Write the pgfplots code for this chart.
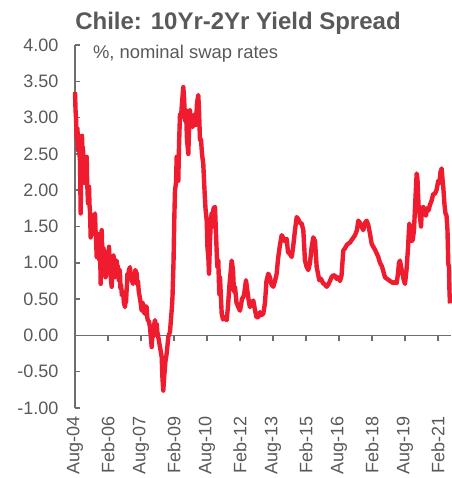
\documentclass[border=0pt]{standalone}
\usepackage{pgfplots}
\pgfplotsset{compat=1.18}
\usepackage{fontspec}
\setmainfont{Liberation Sans}
\definecolor{spreadred}{HTML}{EE1C2E}
\definecolor{txtgray}{HTML}{595959}
\definecolor{axgray}{HTML}{6E6E6E}
\begin{document}
\begin{tikzpicture}
\begin{axis}[
  at={(0,0)}, anchor=south west,
  scale only axis, width=282pt, height=272.25pt,
  xmin=0, xmax=205.1, ymin=-1, ymax=4,
  axis x line=middle, axis y line=left,
  hide obscured x ticks=false, hide obscured y ticks=false,
  axis line style={draw=axgray, line width=1.3pt, -},
  xtick={0,18,...,198},
  xticklabels={Aug-04,Feb-06,Aug-07,Feb-09,Aug-10,Feb-12,Aug-13,Feb-15,Aug-16,Feb-18,Aug-19,Feb-21},
  ytick={-1,-0.5,...,4},
  xtick align=outside, ytick align=inside,
  major tick length=4pt,
  every tick/.style={draw=axgray, line width=1.1pt},
  minor tick num=0,
  tick label style={font=\fontsize{13.5}{14}\selectfont, text=txtgray},
  /pgf/number format/assume math mode=true,
  yticklabel style={/pgf/number format/fixed, /pgf/number format/fixed zerofill, /pgf/number format/precision=2, anchor=east, xshift=-9pt},
  xticklabel style={yshift=-53pt, rotate=90, anchor=east},
  clip=false,
]
\addplot[spreadred, line width=3.3pt, line join=round] coordinates {
(0,3.35)(0.3,3.1)(0.55,3.0)(0.8,2.8)(1.09,2.69)(1.35,2.85)(1.64,2.55)(1.9,2.7)(2.18,2.75)(2.45,2.5)(2.73,2.40)(3.11,1.68)(3.3,2.2)(3.55,2.50)(3.82,2.75)(4.1,2.45)(4.36,2.59)(4.65,2.2)(4.91,2.30)(5.2,2.1)(5.45,2.41)(5.9,2.2)(6.38,2.46)(6.6,2.15)(6.82,2.0)(7.09,1.82)(7.35,2.0)(7.64,2.05)(7.9,1.8)(8.18,1.72)(8.56,1.35)(8.9,1.6)(9.27,1.65)(9.55,1.45)(9.82,1.40)(10.3,1.6)(10.91,1.68)(11.2,1.45)(11.45,1.35)(11.84,1.08)(12.2,1.4)(12.55,1.30)(12.8,1.15)(13.09,1.05)(13.35,1.3)(13.64,1.25)(14.02,0.71)(14.3,1.2)(14.56,1.45)(14.9,1.15)(15.27,0.95)(15.55,1.2)(15.82,1.10)(16.1,0.9)(16.36,1.03)(16.65,0.8)(16.91,0.85)(17.2,1.0)(17.45,1.15)(18.0,0.95)(18.55,1.22)(18.8,1.0)(19.09,0.95)(19.5,0.8)(20.02,0.67)(20.4,0.9)(20.73,0.85)(21.0,1.1)(21.27,1.05)(21.55,0.85)(21.82,0.80)(22.3,0.95)(22.75,1.03)(23.1,0.85)(23.45,0.95)(23.7,0.8)(24.0,0.75)(24.3,0.9)(24.55,0.85)(24.8,0.65)(25.09,0.70)(25.6,0.55)(26.18,0.60)(26.7,0.45)(27.27,0.39)(27.5,0.5)(27.82,0.45)(28.1,0.6)(28.36,0.70)(28.6,0.85)(28.91,0.80)(29.4,0.9)(30.0,0.94)(30.3,0.8)(30.55,0.85)(31.1,0.75)(31.64,0.71)(31.9,0.85)(32.18,0.80)(32.9,0.9)(33.65,0.85)(34.0,0.7)(34.36,0.75)(34.8,0.6)(35.18,0.55)(35.8,0.45)(36.38,0.34)(36.7,0.45)(37.09,0.44)(37.5,0.35)(37.91,0.30)(38.5,0.4)(39.11,0.39)(39.4,0.25)(39.82,0.20)(40.3,0.2)(40.91,0.11)(41.3,0.0)(41.84,-0.16)(42.3,0.05)(42.71,-0.02)(43.2,0.15)(43.64,0.21)(44.1,0.1)(44.56,0.16)(44.9,0.05)(45.27,0.0)(46.36,-0.16)(47.29,-0.30)(47.73,-0.6)(48.16,-0.76)(48.71,-0.55)(49.36,-0.35)(50.02,-0.25)(50.89,-0.02)(51.82,0.05)(52.75,0.35)(53.18,0.53)(53.73,1.0)(54.16,1.6)(54.55,2.0)(55.09,2.1)(55.47,2.46)(55.91,2.2)(56.35,2.13)(56.73,2.6)(57.27,3.05)(57.82,3.0)(58.36,3.2)(59.07,3.42)(59.45,3.3)(60.0,2.96)(60.55,3.1)(61.09,2.7)(61.80,2.50)(62.18,2.8)(62.73,3.10)(63.27,2.95)(64.2,2.87)(64.91,3.0)(65.45,3.05)(66.0,2.9)(66.55,3.2)(67.25,3.31)(67.64,3.1)(68.18,2.69)(68.73,2.7)(69.27,2.5)(69.98,2.36)(70.64,2.0)(71.18,1.75)(71.84,1.58)(72.27,1.2)(72.71,1.1)(73.09,0.85)(73.64,1.3)(74.18,1.6)(74.56,1.68)(75.0,1.5)(75.55,1.75)(76.36,1.77)(76.91,1.4)(77.62,0.94)(78.16,1.03)(78.71,0.57)(79.09,0.80)(79.64,0.5)(80.02,0.30)(80.73,0.22)(81.55,0.25)(82.75,0.21)(83.45,0.4)(84.27,0.7)(85.47,1.03)(86.18,0.9)(86.73,0.6)(87.27,0.67)(88.09,0.45)(88.91,0.40)(90.0,0.34)(91.09,0.5)(92.18,0.55)(93.27,0.76)(94.09,0.6)(94.91,0.45)(95.45,0.39)(96.38,0.45)(97.25,0.48)(98.18,0.35)(99.0,0.25)(99.98,0.25)(100.91,0.32)(101.73,0.28)(102.71,0.30)(103.64,0.45)(104.45,0.75)(105.44,0.85)(106.36,0.8)(107.18,0.70)(108.16,0.67)(109.09,0.75)(110.02,0.85)(110.73,1.05)(111.82,1.25)(112.75,1.38)(113.45,1.35)(114.27,1.30)(115.47,1.33)(116.18,1.15)(117.27,1.12)(118.2,1.08)(118.91,1.2)(120.0,1.45)(120.93,1.63)(121.8,1.60)(122.73,1.55)(123.65,1.54)(124.53,1.45)(125.45,1.03)(126.27,0.95)(127.25,0.90)(128.18,1.0)(129.0,1.2)(129.98,1.35)(130.91,1.30)(131.84,0.94)(132.55,0.85)(133.25,0.76)(134.18,0.78)(135.27,0.72)(136.36,0.70)(137.29,0.67)(138.16,0.70)(139.09,0.75)(139.91,0.80)(140.89,0.83)(141.82,0.82)(142.64,0.78)(143.45,0.80)(144.55,0.75)(145.36,0.82)(146.35,1.17)(147.27,1.20)(148.36,1.25)(150.0,1.28)(151.09,1.32)(152.73,1.38)(153.82,1.45)(154.53,1.58)(155.45,1.55)(156.27,1.50)(157.25,1.45)(158.18,1.55)(159.11,1.58)(159.98,1.52)(160.91,1.40)(161.84,1.26)(162.71,1.22)(163.64,1.18)(164.73,1.12)(165.44,1.08)(166.36,1.0)(167.45,0.95)(168.55,0.85)(169.09,0.80)(170.18,0.78)(171.27,0.76)(172.36,0.74)(173.62,0.72)(174.55,0.74)(175.47,0.72)(176.18,0.85)(176.73,1.0)(177.27,1.03)(177.82,0.95)(178.64,0.85)(179.45,0.75)(180.0,0.71)(180.82,0.9)(181.64,1.2)(182.35,1.54)(182.73,1.50)(183.27,1.30)(184.2,1.31)(184.91,1.45)(185.73,1.9)(186.38,2.23)(186.82,2.15)(187.36,1.8)(188.18,1.63)(188.73,1.50)(189.27,1.75)(189.98,1.77)(190.64,1.68)(191.45,1.65)(192.0,1.75)(192.82,1.72)(193.64,1.8)(194.45,1.85)(195.44,1.95)(196.36,1.95)(197.18,2.0)(198.16,2.13)(198.82,2.1)(199.36,2.25)(200.02,2.30)(200.45,2.15)(200.89,2.04)(201.55,1.80)(202.09,1.68)(202.64,1.65)(203.18,1.45)(203.62,0.99)(204.0,0.94)(204.27,0.6)(204.55,0.44)
};
\end{axis}
\node[anchor=base west, inner sep=0pt, text=txtgray, font=\fontsize{18}{20}\selectfont\bfseries] at (0pt,283.5pt) {Chile: 10Yr-2Yr Yield Spread};
\node[anchor=base west, inner sep=0pt, text=txtgray, font=\fontsize{13.8}{15}\selectfont] at (13.3pt,261.75pt) {\%, nominal swap rates};
\pgfresetboundingbox
\useasboundingbox (-56.25pt,-52.5pt) rectangle (282pt,306pt);
\end{tikzpicture}
\end{document}
